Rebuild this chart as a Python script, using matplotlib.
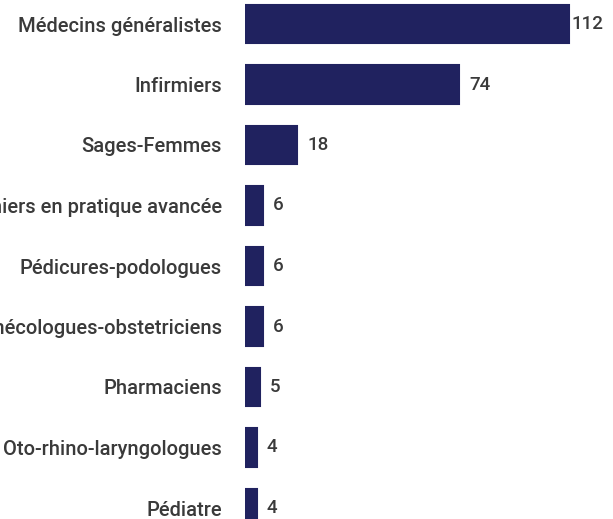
import matplotlib
matplotlib.use("Agg")
import matplotlib.pyplot as plt

categories = ["Médecins généralistes", "Infirmiers", "Sages-Femmes",
              "Infirmiers en pratique avancée", "Pédicures-podologues",
              "Gynécologues-obstetriciens", "Pharmaciens",
              "Oto-rhino-laryngologues", "Pédiatre"]
values = [112, 74, 18, 6, 6, 6, 5, 4, 4]

W, H = 613, 519
fig = plt.figure(figsize=(W / 100, H / 100), dpi=100)
fig.patch.set_facecolor("white")

# axes placed so the chart is cropped like the reference
left_px, width_px = 245.3, 361.6
top_px, bottom_px = -6.25, 538.25
ax = fig.add_axes([left_px / W, (H - bottom_px) / H, width_px / W, (bottom_px - top_px) / H])

bar_color = "#20225f"
text_color = "#3a3a3a"
ypos = list(range(len(categories)))
ax.barh(ypos, values, height=0.63, color=bar_color, edgecolor=bar_color, linewidth=1.5)
ax.set_xlim(0, 125)
ax.set_ylim(len(categories) - 0.5, -0.5)
ax.set_yticks(ypos)
ax.set_yticklabels(categories, fontsize=14.5, color=text_color, family="Roboto",
                   fontweight="medium")
ax.tick_params(axis="y", length=0, pad=17)
ax.set_xticks([])
for s in ax.spines.values():
    s.set_visible(False)

for i, v in enumerate(values):
    pad = 1.5 if i == 0 else 7
    ax.annotate(str(v), (v, i), xytext=(pad, 0), textcoords="offset points",
                va="center", ha="left", fontsize=13.5, color=text_color, family="Roboto",
                fontweight="medium")

fig.savefig("out.png", dpi=100, facecolor="white")
